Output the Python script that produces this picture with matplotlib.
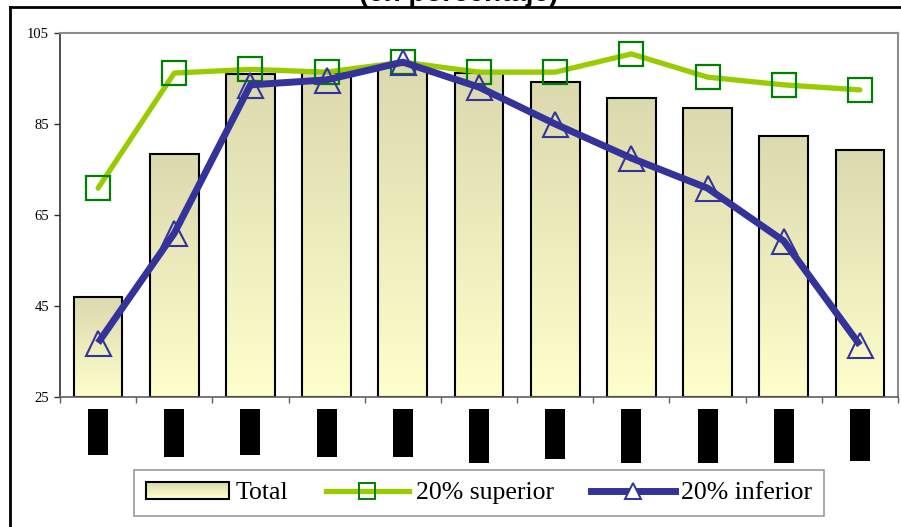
import numpy as np
import matplotlib
matplotlib.use("Agg")
import matplotlib.pyplot as plt
from matplotlib.colors import LinearSegmentedColormap
from matplotlib.patches import Rectangle
from matplotlib.lines import Line2D
from matplotlib.legend_handler import HandlerBase
import matplotlib.transforms as mtransforms

# ---- data -------------------------------------------------------------
n_categories = 11
total = [47.0, 78.4, 96.0, 96.2, 98.0, 96.2, 94.2, 90.7, 88.5, 82.4, 79.3]
top20 = [70.9, 96.2, 97.0, 96.4, 98.6, 96.4, 96.4, 100.4, 95.3, 93.6, 92.5]
bottom20 = [36.9, 61.0, 93.6, 94.7, 98.6, 93.1, 85.0, 77.5, 70.9, 59.3, 36.4]
y_ticks = [25, 45, 65, 85, 105]
# length (in px) of the blacked-out category labels under the axis
label_box_len = [46, 48, 46, 48, 48, 54, 50, 54, 54, 54, 52]

title = "(en porcentaje)"
legend_labels = ["Total", "20% superior", "20% inferior"]

# ---- style ------------------------------------------------------------
W, H, DPI = 901, 527, 100
bar_top_color = "#dbd9ae"
bar_bottom_color = "#ffffcc"
green = "#99cc00"
green_marker = "#008000"
navy = "#333399"
serif = ["Liberation Serif", "DejaVu Serif"]

grad_cmap = LinearSegmentedColormap.from_list("bar_grad", [bar_bottom_color, bar_top_color])

fig = plt.figure(figsize=(W / DPI, H / DPI), dpi=DPI)
ax = fig.add_axes([60 / W, (H - 397) / H, (898 - 60) / W, (397 - 33) / H])

x = np.arange(n_categories)
bar_w = 0.64
ymin, ymax = y_ticks[0], y_ticks[-1]

# gradient-filled bars
grad = np.linspace(0, 1, 256).reshape(-1, 1)
for xi, v in zip(x, total):
    ax.imshow(grad, cmap=grad_cmap, origin="lower", aspect="auto",
              extent=[xi - bar_w / 2, xi + bar_w / 2, ymin, v], zorder=1,
              interpolation="bilinear")
ax.bar(x, np.array(total) - ymin, bottom=ymin, width=bar_w, fill=False,
       edgecolor="black", linewidth=1.5, zorder=2)

# lines
ax.plot(x, top20, color=green, lw=3.8, solid_capstyle="round", zorder=3,
        marker="s", markersize=17, markerfacecolor="none",
        markeredgecolor=green_marker, markeredgewidth=1.6)
ax.plot(x, bottom20, color=navy, lw=5, solid_capstyle="butt", zorder=4,
        marker="^", markersize=18, markerfacecolor="none",
        markeredgecolor=navy, markeredgewidth=1.5)

ax.set_xlim(-0.5, n_categories - 0.5)
ax.set_ylim(ymin, ymax)

# axes frame and ticks
for side in ("top", "right"):
    ax.spines[side].set_color("#8c8c8c")
    ax.spines[side].set_linewidth(1.5)
ax.spines["left"].set_color("#303030")
ax.spines["bottom"].set_color("#606060")
ax.spines["left"].set_linewidth(1.2)
ax.spines["bottom"].set_linewidth(1.2)

ax.set_yticks(y_ticks)
ax.set_yticklabels([str(t) for t in y_ticks], family=serif, fontsize=10.5)
ax.tick_params(axis="y", direction="out", length=4, width=1, color="#303030", pad=4)
ax.set_xticks(np.arange(-0.5, n_categories, 1.0))
ax.set_xticklabels([])
ax.tick_params(axis="x", direction="out", length=4, width=1, color="#606060")

# blacked-out category labels
ax_h_px = 397 - 33
px_per_cat = (898 - 60) / n_categories
trans = mtransforms.blended_transform_factory(ax.transData, ax.transAxes)
box_w = 20 / px_per_cat
for xi, ln in zip(x, label_box_len):
    top = -12 / ax_h_px
    ax.add_patch(Rectangle((xi - box_w / 2, top - ln / ax_h_px), box_w, ln / ax_h_px,
                           transform=trans, facecolor="black", edgecolor="none",
                           clip_on=False))

# outer chart border (left and top edges)
fig.add_artist(Line2D([10 / W, 10 / W], [0, 1 - 7 / H], transform=fig.transFigure,
                      color="black", lw=2))
fig.add_artist(Line2D([10 / W, 1], [1 - 7 / H, 1 - 7 / H], transform=fig.transFigure,
                      color="black", lw=2))

# title (sits at the very top edge)
fig.text(459 / W, 1 - 1 / H, title, ha="center", va="baseline",
         family=["Liberation Sans", "DejaVu Sans"], fontweight="bold", fontsize=20)


# legend with a gradient swatch for the bars
class GradientPatchHandler(HandlerBase):
    def create_artists(self, legend, orig_handle, xdescent, ydescent, width, height,
                       fontsize, trans):
        artists = []
        steps = 12
        for i in range(steps):
            c = grad_cmap(1 - i / (steps - 1))
            r = Rectangle((-xdescent, -ydescent + height * (1 - (i + 1) / steps)),
                          width, height / steps, facecolor=c, edgecolor="none",
                          transform=trans)
            artists.append(r)
        artists.append(Rectangle((-xdescent, -ydescent), width, height, fill=False,
                                 edgecolor="black", lw=1.5, transform=trans))
        return artists


bar_handle = Rectangle((0, 0), 1, 1)
green_handle = Line2D([], [], color=green, lw=3.8, marker="s", markersize=12,
                      markerfacecolor="none", markeredgecolor=green_marker,
                      markeredgewidth=1.4)
navy_handle = Line2D([], [], color=navy, lw=5, marker="^", markersize=12,
                     markerfacecolor="white", markeredgecolor=navy,
                     markeredgewidth=1.4)
leg = fig.legend([bar_handle, green_handle, navy_handle], legend_labels,
                 handler_map={Rectangle: GradientPatchHandler()},
                 loc="center", bbox_to_anchor=(479 / W, 34 / H), ncol=3,
                 prop={"family": serif, "size": 18.5}, frameon=True, fancybox=False,
                 edgecolor="#808080", handlelength=3.25, handleheight=0.65,
                 handletextpad=0.25, columnspacing=1.45, borderpad=0.45)
leg.get_frame().set_linewidth(1.2)

fig.savefig("out.png", dpi=DPI)
